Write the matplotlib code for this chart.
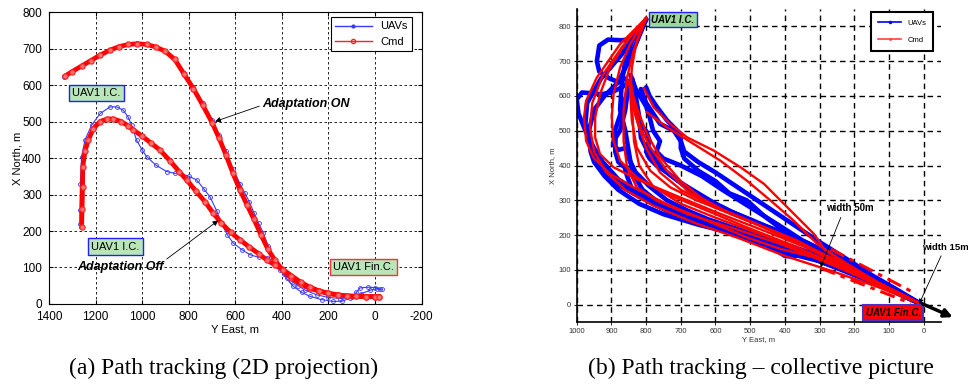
import matplotlib
matplotlib.use("Agg")
import matplotlib.pyplot as plt
from matplotlib.lines import Line2D

plt.rcParams['font.family'] = ['Liberation Sans', 'DejaVu Sans']
plt.rcParams['axes.unicode_minus'] = False

# ---- panel (a): single UAV, adaptation on / off ----
cmd_on_e = [1330, 1300, 1260, 1220, 1180, 1140, 1100, 1060, 1020, 980, 940, 900, 860, 820, 780, 740,
            700, 670, 640, 610, 580, 550, 520, 490, 460, 430, 400, 360, 320, 280, 240, 200, 160, 120,
            80, 40, 0, -15]
cmd_on_n = [625, 637, 652, 667, 682, 695, 705, 711, 713, 711, 704, 692, 670, 630, 590, 545,
            497, 455, 408, 358, 312, 272, 232, 190, 150, 120, 95, 72, 55, 43, 35, 29, 25, 22,
            21, 20, 20, 20]
uav_on_e = [1335, 1300, 1260, 1220, 1180, 1140, 1100, 1060, 1020, 980, 940, 900, 860, 820, 780, 740,
            700, 670, 640, 610, 580, 560, 540, 520, 500, 480, 460, 445, 420, 390, 360, 330, 300, 250,
            200, 150, 100, 60, 20, -10, -30]
uav_on_n = [622, 636, 651, 667, 683, 696, 706, 712, 715, 713, 705, 692, 670, 632, 595, 552,
            503, 462, 418, 370, 330, 305, 280, 250, 222, 195, 160, 130, 105, 82, 63, 50, 38, 25,
            18, 15, 18, 28, 38, 42, 40]
cmd_off_e = [1260, 1258, 1256, 1255, 1245, 1231, 1210, 1181, 1150, 1124, 1090, 1060, 1038, 1000, 960,
             924, 880, 840, 809, 770, 730, 695, 660, 620, 580, 540, 500, 466, 430, 394, 360, 320,
             280, 240, 200, 160, 120, 80, 40, 0, -15]
cmd_off_n = [212, 260, 320, 376, 420, 449, 480, 500, 507, 507, 500, 488, 477, 460, 440,
             422, 392, 362, 340, 310, 280, 249, 222, 196, 176, 156, 138, 121, 107, 94, 78, 60,
             46, 36, 29, 25, 22, 21, 20, 20, 20]
uav_off_e = [1267, 1267, 1265, 1260, 1245, 1217, 1180, 1138, 1110, 1081, 1060, 1045, 1024, 1000, 981,
             940, 895, 860, 838, 800, 766, 735, 709, 680, 659, 635, 609, 570, 537, 500, 466, 435,
             409, 380, 351, 315, 280, 230, 180, 140, 108, 80, 65, 30, 0, -20]
uav_off_n = [220, 258, 330, 404, 450, 490, 522, 540, 540, 531, 512, 490, 449, 422, 404,
             380, 363, 358, 358, 350, 340, 315, 294, 255, 221, 190, 167, 148, 135, 128, 126, 110,
             94, 70, 48, 32, 21, 12, 7, 8, 16, 32, 44, 46, 45, 40]

# ---- panel (b): collective picture ----
cmd_east = [
    [800, 875, 942, 973, 979, 973, 952, 904, 836, 740, 624, 509, 412, 316, 220, 123, 15],
    [800, 855, 904, 933, 947, 947, 933, 894, 817, 701, 586, 461, 316, 171, 15],
    [800, 846, 875, 894, 899, 894, 875, 827, 740, 624, 509, 364, 220, 110, 15],
    [800, 836, 855, 865, 865, 855, 827, 769, 682, 557, 412, 268, 123, 15],
    [800, 827, 841, 846, 841, 827, 788, 730, 653, 528, 364, 220, 110, 15],
    [851, 827, 798, 759, 701, 643, 557, 412, 268, 123, 15],
    [845, 836, 817, 788, 740, 682, 605, 460, 316, 160, 15],
    [807, 778, 730, 682, 605, 528, 460, 412, 364, 316, 287, 220, 123, 15],
    [798, 740, 663, 586, 509, 441, 374, 306, 220, 110, 15],
    [800, 870, 925, 955, 962, 950, 915, 860, 780, 660, 530, 400, 260, 130, 15],
    [845, 840, 835, 820, 780, 700, 600, 450, 300, 150, 15],
    [850, 830, 800, 760, 700, 620, 500, 350, 200, 15],
]
cmd_north = [
    [824, 749, 653, 586, 538, 471, 423, 376, 337, 289, 241, 193, 160, 136, 98, 50, 5],
    [824, 759, 682, 605, 538, 481, 433, 395, 356, 308, 261, 213, 155, 79, 5],
    [824, 749, 682, 605, 538, 471, 414, 366, 318, 270, 222, 165, 100, 50, 5],
    [824, 730, 653, 558, 471, 395, 337, 299, 261, 222, 174, 117, 59, 5],
    [824, 759, 682, 605, 529, 452, 385, 337, 299, 251, 184, 107, 52, 5],
    [644, 567, 491, 423, 356, 308, 261, 203, 136, 59, 5],
    [650, 586, 510, 452, 385, 328, 280, 222, 155, 75, 5],
    [623, 567, 519, 481, 443, 395, 347, 299, 251, 203, 160, 117, 59, 5],
    [553, 510, 462, 414, 356, 299, 241, 174, 110, 52, 5],
    [824, 740, 660, 580, 510, 440, 380, 330, 285, 235, 190, 140, 95, 50, 5],
    [650, 560, 470, 400, 340, 290, 250, 195, 130, 65, 5],
    [640, 540, 450, 380, 330, 290, 240, 170, 95, 5],
]
uav_east = [
    [800, 815, 835, 870, 910, 935, 942, 935, 905, 880, 860, 850, 870, 900, 930, 960, 985, 1000,
     995, 975, 950, 925, 880, 800, 700, 600, 500, 420, 360, 300, 200, 100, 10],
    [800, 850, 880, 920, 950, 965, 960, 950, 920, 880, 820, 750, 650, 550, 480, 430, 400, 380,
     340, 300, 200, 100, 10],
    [800, 790, 770, 740, 720, 700, 700, 690, 650, 600, 560, 510, 460, 400, 350, 300, 250, 170,
     100, 10],
    [840, 830, 820, 815, 800, 780, 760, 740, 700, 650, 600, 550, 500, 430, 380, 300, 200, 100, 10],
    [845, 870, 890, 895, 880, 860, 850, 830, 790, 740, 680, 620, 560, 500, 420, 340, 250, 150, 10],
    [800, 870, 930, 970, 975, 960, 930, 880, 820, 740, 650, 560, 480, 400, 330, 250, 150, 60, 10],
    [800, 840, 860, 870, 875, 860, 850, 840, 810, 760, 700, 640, 560, 480, 400, 320, 240, 150, 10],
    [845, 830, 800, 790, 780, 760, 770, 750, 700, 640, 580, 500, 420, 350, 280, 200, 120, 10],
    [815, 800, 780, 760, 740, 720, 700, 690, 650, 600, 540, 480, 420, 360, 300, 220, 150, 80, 10],
    [850, 860, 875, 888, 889, 880, 862, 855, 840, 800, 740, 660, 580, 500, 420, 340, 250, 150, 10],
    [830, 820, 800, 790, 800, 790, 770, 740, 700, 640, 560, 480, 400, 330, 250, 160, 10],
]
uav_north = [
    [820, 790, 765, 760, 762, 745, 700, 670, 650, 640, 650, 640, 625, 610, 605, 608, 610, 590,
     550, 500, 450, 410, 360, 310, 260, 220, 185, 160, 140, 125, 90, 45, 3],
    [820, 700, 640, 600, 560, 500, 440, 410, 370, 330, 290, 260, 230, 205, 185, 160, 140, 138,
     145, 125, 88, 45, 3],
    [625, 600, 570, 530, 510, 490, 450, 420, 385, 355, 320, 300, 255, 210, 175, 150, 125, 80,
     45, 3],
    [650, 600, 540, 480, 450, 430, 400, 380, 350, 320, 290, 265, 245, 215, 190, 150, 95, 48, 3],
    [640, 560, 500, 460, 445, 450, 420, 380, 340, 300, 270, 245, 225, 205, 180, 150, 115, 70, 3],
    [820, 720, 650, 580, 520, 450, 390, 345, 310, 275, 240, 215, 195, 175, 150, 115, 70, 30, 3],
    [820, 760, 700, 640, 560, 500, 440, 380, 330, 290, 260, 240, 215, 190, 165, 140, 110, 70, 3],
    [660, 620, 570, 540, 500, 470, 440, 420, 400, 370, 330, 280, 230, 185, 150, 110, 65, 3],
    [620, 580, 550, 520, 510, 500, 470, 440, 410, 380, 340, 300, 260, 220, 180, 130, 85, 45, 3],
    [640, 560, 500, 480, 440, 410, 395, 370, 330, 300, 270, 240, 215, 190, 165, 140, 105, 65, 3],
    [560, 520, 500, 470, 440, 420, 400, 380, 350, 310, 270, 235, 205, 175, 135, 85, 3],
]
band_upper_e = [268, 22]
band_upper_n = [160, 31]
band_lower_e = [297, 37]
band_lower_n = [105, 4]

fig = plt.figure(figsize=(9.68, 3.85), dpi=100)

# ----------------- (a) -----------------
ax = fig.add_axes([0.0506, 0.2104, 0.385, 0.7584])
for e, n in [(cmd_on_e, cmd_on_n), (cmd_off_e, cmd_off_n)]:
    ax.plot(e, n, color='#ff0000', lw=3.4, marker='o', ms=3.8, mfc='#ff7070', mec='#ff2020',
            mew=0.8, zorder=3)
for e, n in [(uav_on_e, uav_on_n), (uav_off_e, uav_off_n)]:
    ax.plot(e, n, color='#3838ff', lw=0.8, marker='o', ms=2.8, mfc='none', mec='#3838ff',
            mew=0.6, zorder=2)
ax.set_xlim(1400, -200)
ax.set_ylim(0, 800)
ax.set_xticks(range(1400, -201, -200))
ax.set_yticks(range(0, 801, 100))
ax.grid(True, color='k', ls=(0, (3, 3)), lw=0.6)
ax.tick_params(direction='in', top=True, right=True, labelsize=8.5, length=3)
ax.tick_params(axis='y', pad=5)
ax.tick_params(axis='x', pad=5)
ax.set_xlabel('Y East, m', fontsize=8, labelpad=1)
ax.set_ylabel('X North, m', fontsize=8, labelpad=0)
for s in ax.spines.values():
    s.set_linewidth(0.8)

leg_h = [Line2D([], [], color='#3838ff', lw=1, marker='.', ms=4),
         Line2D([], [], color='#ff2020', lw=1, marker='o', ms=3, mfc='none')]
lg = ax.legend(leg_h, ['UAVs', 'Cmd'], loc='upper right', bbox_to_anchor=(0.975, 0.983),
               borderaxespad=0, fontsize=8, fancybox=False, framealpha=1, edgecolor='k',
               handlelength=3.3, borderpad=0.4, labelspacing=0.5)
lg.get_frame().set_linewidth(0.8)

ax.text(1300, 578, 'UAV1 I.C.', fontsize=8, ha='left', va='center',
        bbox=dict(boxstyle='square,pad=0.3', fc='#b8e6b8', ec='#2020ff', lw=1))
ax.text(1218, 157, 'UAV1 I.C.', fontsize=8, ha='left', va='center',
        bbox=dict(boxstyle='square,pad=0.3', fc='#b8e6b8', ec='#2020ff', lw=1))
ax.text(180, 101, 'UAV1 Fin.C.', fontsize=8, ha='left', va='center',
        bbox=dict(boxstyle='square,pad=0.3', fc='#b8e6b8', ec='#ff3030', lw=1))
ax.annotate('Adaptation ON', xy=(687, 500), xytext=(485, 548), fontsize=9,
            fontweight='bold', fontstyle='italic', ha='left', va='center',
            arrowprops=dict(arrowstyle='-|>', color='k', lw=0.6, mutation_scale=8,
                            relpos=(0, 0.4), shrinkA=0, shrinkB=0))
ax.annotate('Adaptation Off', xy=(673, 229), xytext=(1278, 101), fontsize=9,
            fontweight='bold', fontstyle='italic', ha='left', va='center',
            arrowprops=dict(arrowstyle='-|>', color='k', lw=0.6, mutation_scale=8,
                            relpos=(1, 1), shrinkA=0, shrinkB=0))

# ----------------- (b) -----------------
bx = fig.add_axes([0.5958, 0.1636, 0.3763, 0.813])
for e, n in zip(uav_east, uav_north):
    bx.plot(e, n, color='#0000ff', lw=3.3, solid_capstyle='round', solid_joinstyle='round',
            zorder=2)
for e, n in zip(cmd_east, cmd_north):
    bx.plot(e, n, color='#ff0000', lw=1.7, zorder=3)
bx.plot(band_upper_e, band_upper_n, color='#ff0000', lw=2.2, ls=(0, (5, 2, 1.5, 2)), zorder=4)
bx.plot(band_lower_e, band_lower_n, color='#ff0000', lw=2.2, ls=(0, (5, 2, 1.5, 2)), zorder=4)
bx.set_xlim(1000, -50)
bx.set_ylim(-50, 850)
bx.set_xticks(range(1000, -1, -100))
bx.set_yticks(range(0, 801, 100))
bx.grid(True, color='k', ls=(0, (4, 3)), lw=1.0)
bx.spines['top'].set_visible(False)
bx.spines['right'].set_visible(False)
bx.spines['left'].set_linewidth(1.2)
bx.spines['bottom'].set_linewidth(1.2)
bx.tick_params(labelsize=5.5, length=2, width=0.6, labelcolor='#333333', pad=2)
bx.set_xlabel('Y East, m', fontsize=5.5, labelpad=1, color='#333333')
bx.set_ylabel('X North, m', fontsize=5.5, labelpad=2, color='#333333')

leg_h2 = [Line2D([], [], color='#0000ff', lw=1.2, marker='.', ms=3),
          Line2D([], [], color='#ff4040', lw=1.2, marker='.', ms=2)]
lg2 = bx.legend(leg_h2, ['UAVs', 'Cmd'], loc='upper right', bbox_to_anchor=(0.979, 0.989),
                borderaxespad=0, fontsize=5.5, fancybox=False, framealpha=1, edgecolor='k',
                handlelength=3.1, borderpad=0.9, labelspacing=1.3)
lg2.get_frame().set_linewidth(1.5)

bx.text(786, 819, 'UAV1 I.C.', fontsize=7, fontweight='bold', fontstyle='italic',
        ha='left', va='center', zorder=6,
        bbox=dict(boxstyle='square,pad=0.25', fc='#9ad99a', ec='#2020ff', lw=1))
bx.text(8, -23, 'UAV1 Fin.C.', fontsize=7, fontweight='bold', fontstyle='italic',
        ha='right', va='center', zorder=6,
        bbox=dict(boxstyle='square,pad=0.25', fc='#ff0000', ec='#5030c0', lw=1.5))
bx.annotate('width 50m', xy=(297, 107), xytext=(282, 277), fontsize=7, fontweight='bold',
            ha='left', va='center', zorder=6,
            arrowprops=dict(arrowstyle='-|>', color='k', lw=0.6, mutation_scale=7,
                            relpos=(0.35, 0), shrinkA=1, shrinkB=0))
bx.annotate('width 15m', xy=(13, 2), xytext=(5, 165), fontsize=6.8, fontweight='bold',
            ha='left', va='center', zorder=6, annotation_clip=False,
            arrowprops=dict(arrowstyle='-|>', color='k', lw=0.6, mutation_scale=7,
                            relpos=(0.45, 0), shrinkA=1, shrinkB=0))
bx.annotate('', xy=(-84, -36), xytext=(3, 2), annotation_clip=False, zorder=6,
            arrowprops=dict(arrowstyle='-|>', color='k', lw=2.5, mutation_scale=12,
                            shrinkA=0, shrinkB=0))

fig.text(0.2314, 0.042, '(a) Path tracking (2D projection)', fontsize=17,
         family='Liberation Serif', ha='center', va='center')
fig.text(0.786, 0.042, '(b) Path tracking \u2013 collective picture', fontsize=17,
         family='Liberation Serif', ha='center', va='center')

fig.savefig('out.png', dpi=100)
